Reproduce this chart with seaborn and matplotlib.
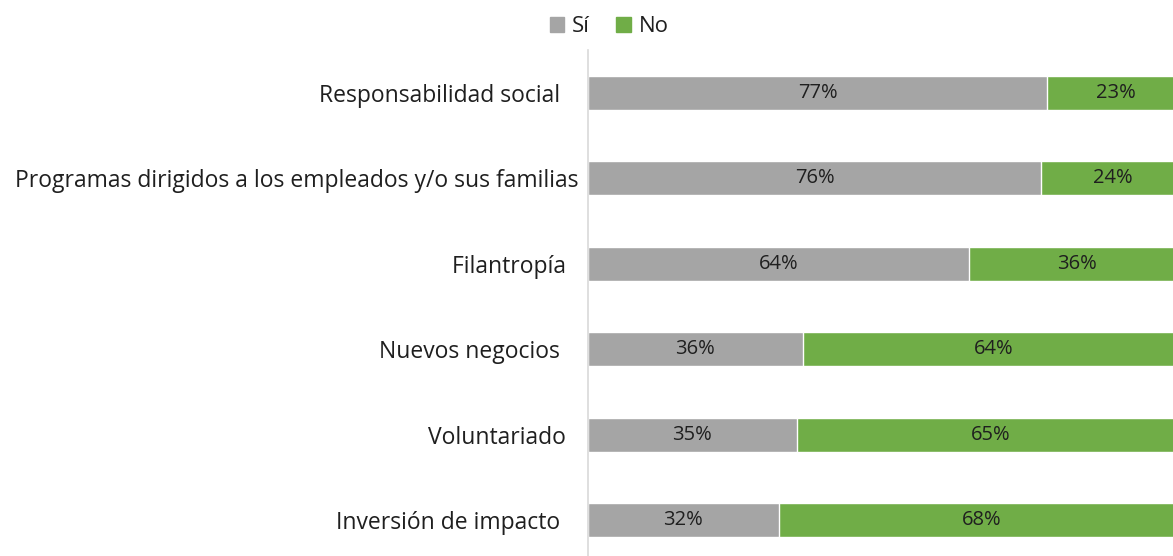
import matplotlib
matplotlib.use("Agg")
import matplotlib.pyplot as plt
import seaborn as sns
import pandas as pd
from matplotlib.patches import Patch

# trailing spaces as in the source labels
categories = [
    "Responsabilidad social   ",
    "Programas dirigidos a los empleados y/o sus familias",
    "Filantropía  ",
    "Nuevos negocios   ",
    "Voluntariado  ",
    "Inversión de impacto   ",
]
si_values = [77, 76, 64, 36, 35, 32]
no_values = [23, 24, 36, 64, 65, 68]

GRAY = "#A5A5A5"
GREEN = "#70AD47"
TEXT = "#1F1F1F"

sns.set_theme(style="white")
plt.rcParams["font.family"] = ["Open Sans", "DejaVu Sans"]

df = pd.DataFrame({"cat": categories, "si": si_values, "no": no_values})
df["total"] = df["si"] + df["no"]

fig = plt.figure(figsize=(11.73, 5.56), dpi=100)
# the plot area runs a little past the right edge (the reference is cropped there)
ax = fig.add_axes([588 / 1173, 0.0, 596 / 1173, 1 - 50 / 556])

# green (No) drawn as full length, gray (Sí) on top
sns.barplot(data=df, y="cat", x="total", color=GREEN, orient="h", width=0.4,
            edgecolor="white", linewidth=1, saturation=1, ax=ax)
sns.barplot(data=df, y="cat", x="si", color=GRAY, orient="h", width=0.4,
            edgecolor="white", linewidth=1, saturation=1, ax=ax)

no_bars = ax.containers[0]
si_bars = ax.containers[1]
ax.bar_label(si_bars, labels=[f"{v}%" for v in si_values], label_type="center",
             fontsize=14.5, color=TEXT)
for bar, v in zip(no_bars, no_values):
    x0 = bar.get_x() + bar.get_width() - v / 2
    ax.text(x0, bar.get_y() + bar.get_height() / 2, f"{v}%", ha="center",
            va="center", fontsize=14.5, color=TEXT)

ax.set_xlim(0, 100)
ax.set_ylim(5.42, -0.5)
ax.set_xlabel("")
ax.set_ylabel("")
ax.set_xticks([])
ax.tick_params(axis="y", length=0, pad=7, labelsize=16.5, labelcolor=TEXT)
for side in ["top", "right", "bottom"]:
    ax.spines[side].set_visible(False)
ax.spines["left"].set_color("#D9D9D9")
ax.spines["left"].set_linewidth(1.2)

handles = [Patch(color=GRAY, label="Sí"), Patch(color=GREEN, label="No")]
fig.legend(handles=handles, loc="center", bbox_to_anchor=(609 / 1173, 1 - 27 / 556),
           ncol=2, frameon=False, fontsize=16, handlelength=0.65, handleheight=0.65,
           handletextpad=0.35, columnspacing=1.2, labelcolor=TEXT)

fig.savefig("out.png", dpi=100)
